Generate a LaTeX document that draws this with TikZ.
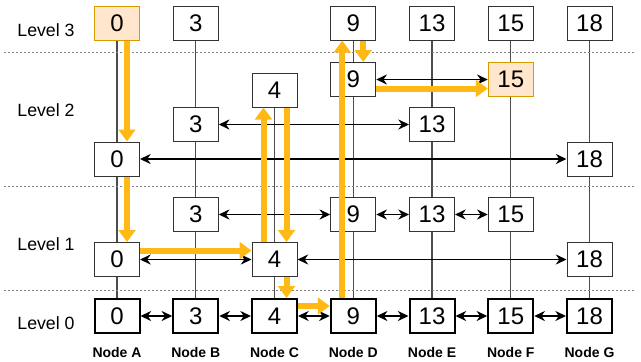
\documentclass[tikz,border=0pt]{standalone}
\usepackage{fontspec}
\setmainfont{Liberation Sans}
\usepackage{xcolor}
\usetikzlibrary{arrows.meta,positioning,calc,backgrounds}

\definecolor{hitfill}{HTML}{FFE6CC}
\definecolor{hitline}{HTML}{D79B00}
\definecolor{hopfill}{HTML}{FFB915}

\begin{document}
\begin{tikzpicture}[
    x=0.75pt, y=-0.75pt,
    cell/.style={rectangle, draw=black!80, fill=white, line width=0.75pt, minimum width=33.75pt, minimum height=25.5pt, inner sep=0pt, font=\fontsize{18}{18}\selectfont},
    basecell/.style={cell, draw=black, line width=1.5pt},
    hitcell/.style={cell, draw=hitline, fill=hitfill},
    lvl/.style={font=\fontsize{13.3}{15}\selectfont},
    colname/.style={font=\fontsize{10.5}{12}\selectfont\bfseries, inner sep=0pt},
    link/.style={{Stealth[length=8pt,width=7.5pt]}-{Stealth[length=8pt,width=7.5pt]}, line width=1.4pt},
    wire/.style={draw=black!70, line width=0.8pt},
    sep/.style={draw=black!50, line width=0.5pt, dash pattern=on 1.5pt off 1.5pt},
    hop/.style={-{Triangle[length=9pt,width=12.5pt]}, draw=hopfill, line width=4.5pt}
]
    \useasboundingbox (0,0) rectangle (641,361);

    % level separators
    \draw[sep] (4,52) -- (636,52);
    \draw[sep] (4,186) -- (636,186);
    \draw[sep] (4,290) -- (636,290);

    \node[lvl] (lv3) at (46,30) {Level 3};
    \node[lvl] (lv2) at (46,110) {Level 2};
    \node[lvl] (lv1) at (46,244) {Level 1};
    \node[lvl] (lv0) at (46,323) {Level 0};

    % level 3
    \node[hitcell] (a3) at (117,23) {0};
    \node[cell] (b3) at (195.75,23) {3};
    \node[cell] (d3) at (353.25,23) {9};
    \node[cell] (e3) at (432,23) {13};
    \node[cell] (f3) at (510.75,23) {15};
    \node[cell] (g3) at (589.5,23) {18};

    % level 2
    \node[cell] (d2) at (353.25,79.5) {9};
    \node[hitcell] (f2) at (510.75,79.5) {15};
    \node[cell] (c2) at (274.5,90) {4};
    \node[cell] (b2) at (195.75,124.5) {3};
    \node[cell] (e2) at (432,124.5) {13};
    \node[cell] (a2) at (117,159) {0};
    \node[cell] (g2) at (589.5,159) {18};

    % level 1
    \node[cell] (b1) at (195.75,214.5) {3};
    \node[cell] (d1) at (353.25,214.5) {9};
    \node[cell] (e1) at (432,214.5) {13};
    \node[cell] (f1) at (510.75,214.5) {15};
    \node[cell] (a1) at (117,259.5) {0};
    \node[cell] (c1) at (274.5,259.5) {4};
    \node[cell] (g1) at (589.5,259.5) {18};

    % level 0
    \node[basecell] (a0) at (117,316) {0};
    \node[basecell] (b0) at (195.75,316) {3};
    \node[basecell] (c0) at (274.5,316) {4};
    \node[basecell] (d0) at (353.25,316) {9};
    \node[basecell] (e0) at (432,316) {13};
    \node[basecell] (f0) at (510.75,316) {15};
    \node[basecell] (g0) at (589.5,316) {18};

    \node[colname, below=10pt of a0] (na) {Node A};
    \node[colname, below=10pt of b0] (nb) {Node B};
    \node[colname, below=10pt of c0] (nc) {Node C};
    \node[colname, below=10pt of d0] (nd) {Node D};
    \node[colname, below=10pt of e0] (ne) {Node E};
    \node[colname, below=10pt of f0] (nf) {Node F};
    \node[colname, below=10pt of g0] (ng) {Node G};

    % columns
    \begin{scope}[on background layer]
        \draw[wire] (a3) -- (a0);
        \draw[wire] (b3) -- (b0);
        \draw[wire] (c2) -- (c0);
        \draw[wire] (d3) -- (d0);
        \draw[wire] (e3) -- (e0);
        \draw[wire] (f3) -- (f0);
        \draw[wire] (g3) -- (g0);
    \end{scope}

    % links
    \draw[link] (d2) -- (f2);
    \draw[link] (b2) -- (e2);
    \draw[link] (a2) -- (g2);
    \draw[link] (b1) -- (d1);
    \draw[link] (d1) -- (e1);
    \draw[link] (e1) -- (f1);
    \draw[link] (a1) -- (c1);
    \draw[link] (c1) -- (g1);
    \draw[link] (a0) -- (b0);
    \draw[link] (b0) -- (c0);
    \draw[link] (c0) -- (d0);
    \draw[link] (d0) -- (e0);
    \draw[link] (e0) -- (f0);
    \draw[link] (f0) -- (g0);

    % search path
    \draw[hop] ($(a3.south)+(10,0)$) -- ($(a2.north)+(10,0)$);
    \draw[hop] ($(a2.south)+(10,0)$) -- ($(a1.north)+(10,0)$);
    \draw[hop] ($(a1.east)+(0,-9)$) -- ($(c1.west)+(0,-9)$);
    \draw[hop] ($(c1.north)+(-11,0)$) -- ($(c2.south)+(-11,0)$);
    \draw[hop] ($(c2.south)+(12,0)$) -- ($(c1.north)+(12,0)$);
    \draw[hop] ($(c1.south)+(12,0)$) -- ($(c0.north)+(12,0)$);
    \draw[hop] ($(c0.east)+(0,-10)$) -- ($(d0.west)+(0,-10)$);
    \draw[hop] ($(d0.north)+(-11,0)$) -- ($(d3.south)+(-11,0)$);
    \draw[hop] ($(d3.south)+(10,0)$) -- ($(d2.north)+(10,0)$);
    \draw[hop] ($(d2.east)+(0,9)$) -- ($(f2.west)+(0,9)$);
\end{tikzpicture}
\end{document}
